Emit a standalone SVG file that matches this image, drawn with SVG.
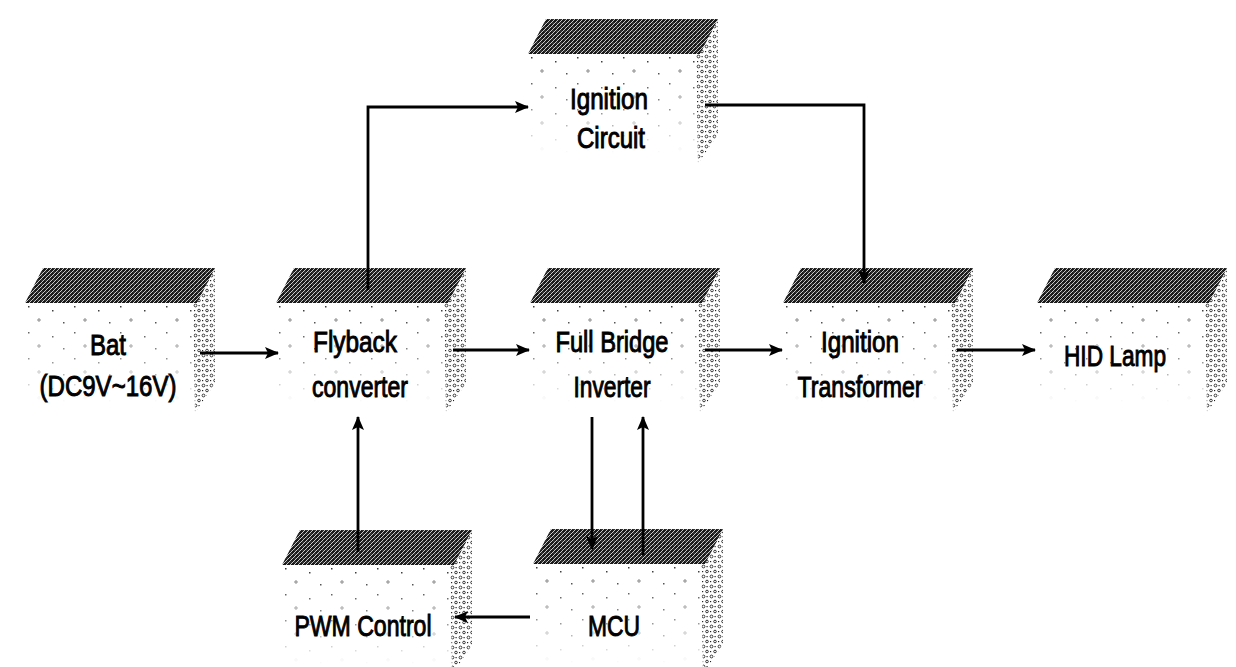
<svg xmlns="http://www.w3.org/2000/svg" width="1236" height="667" viewBox="0 0 1236 667">
<style>
.txt{font-family:"Liberation Sans Narrow","Liberation Sans",Arial,sans-serif;font-size:30px;fill:#000;stroke:#000;stroke-width:1;text-anchor:middle}
.top{fill:url(#hatch)}
.side{fill:url(#dense)}
.front{fill:url(#sparse)}
.conn{fill:none;stroke:#000;stroke-width:2.8}
</style>
<defs>
<pattern id="hatch" width="4" height="4" patternUnits="userSpaceOnUse">
<rect width="4" height="4" fill="#1a1a1a"/>
<path d="M0,4 L4,0" stroke="#ddd" stroke-width="0.9"/>
<circle cx="1" cy="1" r="0.5" fill="#888"/>
</pattern>
<pattern id="dense" width="8" height="10" patternUnits="userSpaceOnUse">
<circle cx="2.5" cy="2.5" r="1.4" fill="none" stroke="#222" stroke-width="0.9"/>
<circle cx="6" cy="7.5" r="1.3" fill="none" stroke="#222" stroke-width="0.9"/>
<rect x="5.5" y="2" width="1.2" height="1.2" fill="#222"/>
<rect x="1" y="7" width="1.2" height="1.2" fill="#222"/>
</pattern>
<pattern id="sparse" width="46" height="26" patternUnits="userSpaceOnUse">
<rect x="3" y="3" width="1.5" height="1.5" fill="#333"/>
<rect x="27" y="7" width="1.5" height="1.5" fill="#333"/>
<circle cx="14" cy="17" r="1.2" fill="none" stroke="#333" stroke-width="0.7"/>
<rect x="38" y="19" width="1.5" height="1.5" fill="#333"/>
</pattern>
<linearGradient id="fade" x1="0" y1="0" x2="0" y2="1">
<stop offset="0" stop-color="#fff"/>
<stop offset="0.6" stop-color="#fff" stop-opacity="0.5"/>
<stop offset="1" stop-color="#fff" stop-opacity="0"/>
</linearGradient>
<mask id="fm" maskContentUnits="objectBoundingBox">
<rect width="1" height="1" fill="url(#fade)"/>
</mask>
<marker id="ah" viewBox="0 0 14 12" refX="13" refY="6" markerWidth="14" markerHeight="12" markerUnits="userSpaceOnUse" orient="auto">
<path d="M0,0 L14,6 L0,12 L3,6 Z" fill="#000"/>
</marker>
<g id="blk">
<rect class="front" x="0" y="0" width="168" height="100" mask="url(#fm)"/>
<polygon class="side" points="168,0 190,-34 190,80 170,110"/>
<polygon class="top" points="0,0 18,-35 190,-35 172,0"/>
</g>
</defs>

<g id="node-bat"><use href="#blk" x="25" y="303"/>
<text class="txt" x="108" y="355" textLength="36" lengthAdjust="spacingAndGlyphs">Bat</text>
<text class="txt" x="108" y="396" textLength="137" lengthAdjust="spacingAndGlyphs">(DC9V~16V)</text></g>

<g id="node-flyback"><use href="#blk" x="276" y="303"/>
<text class="txt" x="355" y="352" textLength="84" lengthAdjust="spacingAndGlyphs">Flyback</text>
<text class="txt" x="360" y="397" textLength="96" lengthAdjust="spacingAndGlyphs">converter</text></g>

<g id="node-fullbridge"><use href="#blk" x="530" y="303"/>
<text class="txt" x="612" y="352" textLength="113" lengthAdjust="spacingAndGlyphs">Full Bridge</text>
<text class="txt" x="612" y="397" textLength="77" lengthAdjust="spacingAndGlyphs">Inverter</text></g>

<g id="node-igntrans"><use href="#blk" x="783" y="303"/>
<text class="txt" x="860" y="352" textLength="78" lengthAdjust="spacingAndGlyphs">Ignition</text>
<text class="txt" x="860" y="397" textLength="125" lengthAdjust="spacingAndGlyphs">Transformer</text></g>

<g id="node-hid"><use href="#blk" x="1037" y="303"/>
<text class="txt" x="1115" y="366" textLength="102" lengthAdjust="spacingAndGlyphs">HID Lamp</text></g>

<g id="node-igncircuit"><use href="#blk" x="528" y="54"/>
<text class="txt" x="609" y="109" textLength="78" lengthAdjust="spacingAndGlyphs">Ignition</text>
<text class="txt" x="611" y="148" textLength="68" lengthAdjust="spacingAndGlyphs">Circuit</text></g>

<g id="node-pwm"><use href="#blk" x="282" y="565"/>
<text class="txt" x="363" y="636" textLength="137" lengthAdjust="spacingAndGlyphs">PWM Control</text></g>

<g id="node-mcu"><use href="#blk" x="533" y="564"/>
<text class="txt" x="614" y="636" textLength="52" lengthAdjust="spacingAndGlyphs">MCU</text></g>

<g id="connectors">
<path class="conn" d="M200,353 L278,353" marker-end="url(#ah)"/>
<path class="conn" d="M453,350 L529,350" marker-end="url(#ah)"/>
<path class="conn" d="M705,350 L782,350" marker-end="url(#ah)"/>
<path class="conn" d="M957,350 L1035,350" marker-end="url(#ah)"/>
<path class="conn" d="M368,290 L368,107 L528,107" marker-end="url(#ah)"/>
<path class="conn" d="M705,105 L864,105 L864,283" marker-end="url(#ah)"/>
<path class="conn" d="M358,552 L358,417" marker-end="url(#ah)"/>
<path class="conn" d="M592,417 L592,549" marker-end="url(#ah)"/>
<path class="conn" d="M643,555 L643,417" marker-end="url(#ah)"/>
<path class="conn" d="M530,617 L455,617" marker-end="url(#ah)"/>
</g>
</svg>
